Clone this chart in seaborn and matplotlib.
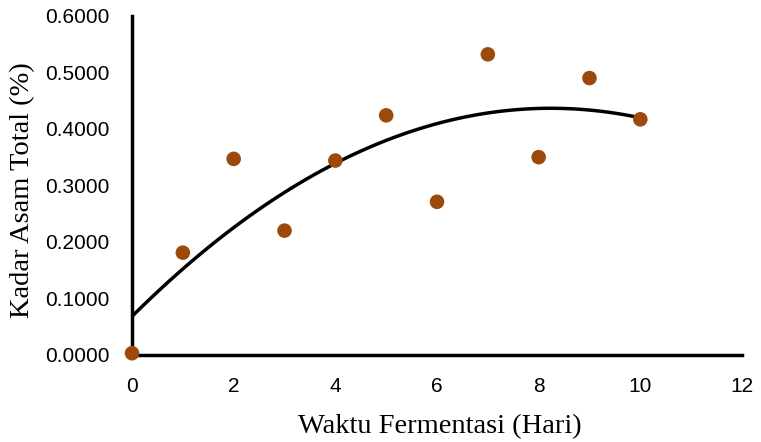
import matplotlib
matplotlib.use("Agg")
import matplotlib.pyplot as plt
import seaborn as sns
import pandas as pd

days = [0, 1, 2, 3, 4, 5, 6, 7, 8, 9, 10]
acid = [0.0030, 0.1810, 0.3470, 0.2200, 0.3440, 0.4240, 0.2710, 0.5320, 0.3500, 0.4900, 0.4170]
x_ticks = [0, 2, 4, 6, 8, 10, 12]
y_ticks = [0.0, 0.1, 0.2, 0.3, 0.4, 0.5, 0.6]

df = pd.DataFrame({"day": days, "acid": acid})

sns.set_style("white")
fig = plt.figure(figsize=(7.61, 4.42), dpi=100)
ax = fig.add_axes([0.1735, 0.197, 0.8015, 0.767])

sns.regplot(data=df, x="day", y="acid", order=2, ci=None, scatter=False,
            line_kws={"color": "black", "lw": 2.5, "zorder": 2}, truncate=True, ax=ax)
sns.scatterplot(data=df, x="day", y="acid", color="#9C4A0C", s=110, edgecolor="none",
                zorder=3, clip_on=False, ax=ax)

ax.set_xlim(0, 12)
ax.set_ylim(0, 0.6)
ax.set_xticks(x_ticks)
ax.set_yticks(y_ticks)
ax.set_xticklabels([str(t) for t in x_ticks], fontsize=15, family="Liberation Sans")
ax.set_yticklabels([f"{t:.4f}" for t in y_ticks], fontsize=15, family="Liberation Sans")
ax.tick_params(axis="x", length=0, pad=16, labelcolor="black")
ax.tick_params(axis="y", length=0, pad=16, labelcolor="black")
for s in ["top", "right"]:
    ax.spines[s].set_visible(False)
for s in ["left", "bottom"]:
    ax.spines[s].set_color("black")
    ax.spines[s].set_linewidth(2.5)
ax.set_xlabel("Waktu Fermentasi (Hari)", fontsize=20.5, family="Liberation Serif", va="center", color="black")
ax.set_ylabel("Kadar Asam Total (%)", fontsize=20.5, family="Liberation Serif", va="center", color="black")
ax.xaxis.set_label_coords(0.504, -0.212)
ax.yaxis.set_label_coords(-0.180, 0.487)
fig.savefig("out.png", dpi=100)
